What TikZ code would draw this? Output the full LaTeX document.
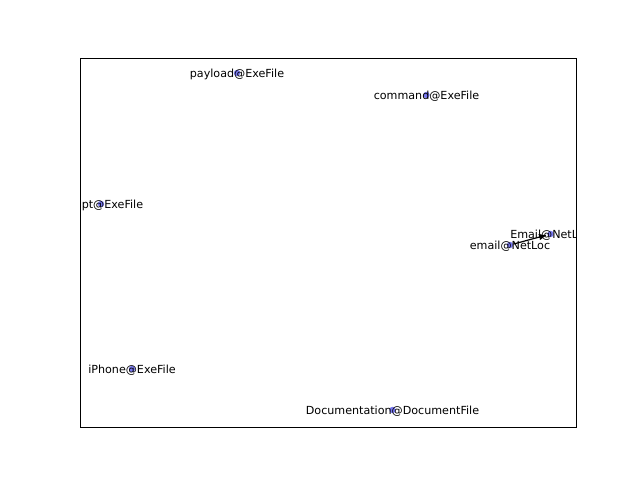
\documentclass[tikz,border=0pt]{standalone}
\usepackage{fontspec}
\setmainfont{DejaVu Sans}
\usepackage{tikz}
\usetikzlibrary{arrows,positioning,shapes}
\definecolor{dotc}{HTML}{7878F0}
\tikzset{
    %Define standard arrow tip
    >=stealth',
    %Define style for the dots
    entity/.style={
   	circle,
   	minimum size=4.8pt,
   	inner sep=0pt,
   	fill=dotc
   },
   % Define style for the labels
   tag/.style={
   	inner sep=0pt,
   	yshift=-1pt,
   	font=\fontsize{8.35}{10}\selectfont,
   	text centered
   },
    % Define arrow style
    pil/.style={
           ->,
           line width=0.9pt,
           shorten <=0pt,
           shorten >=1pt,},
}
\begin{document}
\begin{tikzpicture}[x=0.75pt,y=-0.75pt]
\useasboundingbox (0,0) rectangle (640,480);
%nodes
\begin{scope}
\clip (80,58) rectangle (576,427);
\node[entity] (1) at (237,73) {};
\node[entity] (2) at (426.5,95) {};
\node[entity] (3) at (101,204) {};
\node[entity] (4) at (550.5,234) {};
\node[entity] (5) at (510,245) {};
\node[entity] (6) at (132,369) {};
\node[entity] (7) at (392.5,410) {};
\path (5) edge[pil] (4);
%labels
\node[tag] (1l) at (1) {payload@ExeFile};
\node[tag] (2l) at (2) {command@ExeFile};
\node[tag, xshift=8.6pt] (3l) at (3) {pt@ExeFile};
\node[tag] (4l) at (4) {Email@NetLoc};
\node[tag] (5l) at (5) {email@NetLoc};
\node[tag] (6l) at (6) {iPhone@ExeFile};
\node[tag] (7l) at (7) {Documentation@DocumentFile};
\end{scope}
%frame
\draw[line width=0.6pt] (80,58) rectangle (576,427);
\end{tikzpicture}
\end{document}
